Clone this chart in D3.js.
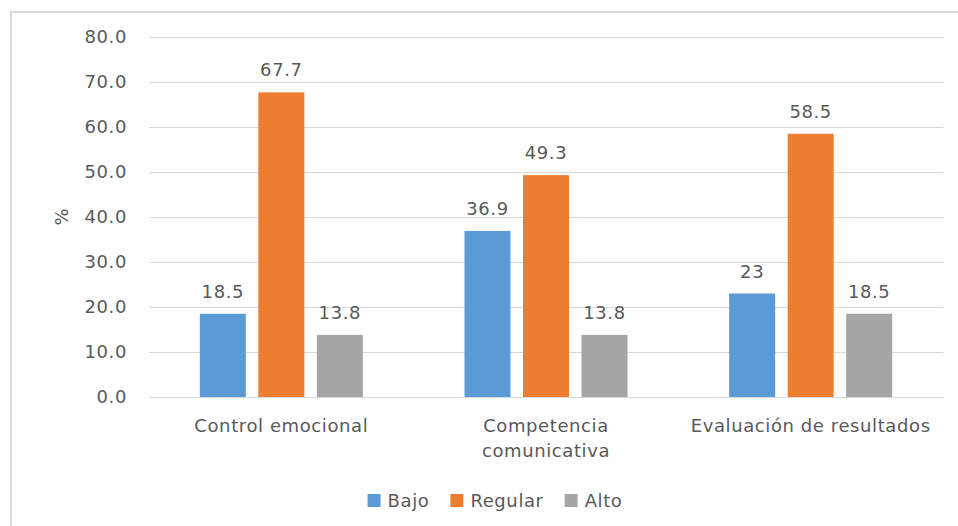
<!DOCTYPE html>
<html>
<head>
<meta charset="utf-8">
<script src="https://cdn.jsdelivr.net/npm/d3@7"></script>
<style>
  body { margin: 0; background: #fff; }
  text { font-family: "DejaVu Sans", sans-serif; fill: #595959; }
</style>
</head>
<body>
<svg id="chart" width="958" height="526"></svg>
<script>
// Dimensions of emotional management, percentage of respondents per level
const categories = ["Control emocional", "Competencia comunicativa", "Evaluación de resultados"];
const categoryLines = [["Control emocional"], ["Competencia", "comunicativa"], ["Evaluación de resultados"]];
const series = ["Bajo", "Regular", "Alto"];
const bajo = [18.5, 36.9, 23];
const regular = [67.7, 49.3, 58.5];
const alto = [13.8, 13.8, 18.5];
const yTicks = [0, 10, 20, 30, 40, 50, 60, 70, 80];
const colors = ["#5b9bd5", "#ed7d31", "#a5a5a5"];

const values = { Bajo: bajo, Regular: regular, Alto: alto };
const rows = categories.map((c, i) => ({
  category: c,
  items: series.map(s => ({ series: s, value: values[s][i] }))
}));

const svg = d3.select("#chart");
const fontSize = 18;
const spacing = "0.6px";

// outer frame
svg.append("rect")
  .attr("x", 11).attr("y", 12)
  .attr("width", 960).attr("height", 530)
  .attr("fill", "none")
  .attr("stroke", "#d9d9d9")
  .attr("stroke-width", 2);

const plot = { left: 149, right: 943, top: 37, bottom: 397 };

const y = d3.scaleLinear().domain([0, 80]).range([plot.bottom, plot.top]);
const x0 = d3.scaleBand().domain(categories).range([plot.left, plot.right]);
const clusterWidth = 163;
const x1 = d3.scaleBand().domain(series).range([0, clusterWidth]).paddingInner(0.2137);
const color = d3.scaleOrdinal().domain(series).range(colors);

// gridlines
svg.append("g")
  .selectAll("line")
  .data(yTicks)
  .join("line")
  .attr("x1", plot.left).attr("x2", plot.right)
  .attr("y1", d => Math.round(y(d)) + 0.5)
  .attr("y2", d => Math.round(y(d)) + 0.5)
  .attr("stroke", "#d9d9d9")
  .attr("stroke-width", 1);

// y axis labels
const yAxis = d3.axisLeft(y).tickValues(yTicks).tickFormat(d3.format(".1f")).tickSize(0).tickPadding(0);
const yg = svg.append("g").attr("transform", `translate(${plot.left - 22},0)`).call(yAxis);
yg.select(".domain").remove();
yg.selectAll("text")
  .attr("font-size", fontSize)
  .style("font-family", '"DejaVu Sans", sans-serif')
  .style("letter-spacing", spacing)
  .attr("fill", "#595959");

// y axis title
svg.append("text")
  .attr("transform", "translate(61,217) rotate(-90)")
  .attr("text-anchor", "middle")
  .attr("dominant-baseline", "central")
  .attr("font-size", fontSize)
  .text("%");

// bars
const groups = svg.append("g")
  .selectAll("g")
  .data(rows)
  .join("g")
  .attr("transform", d => `translate(${x0(d.category) + (x0.bandwidth() - clusterWidth) / 2},0)`);

groups.selectAll("rect")
  .data(d => d.items)
  .join("rect")
  .attr("x", d => x1(d.series))
  .attr("y", d => y(d.value))
  .attr("width", x1.bandwidth())
  .attr("height", d => y(0) - y(d.value))
  .attr("fill", d => color(d.series));

// value labels
groups.selectAll("text")
  .data(d => d.items)
  .join("text")
  .attr("x", d => x1(d.series) + x1.bandwidth() / 2)
  .attr("y", d => y(d.value) - 16)
  .attr("text-anchor", "middle")
  .attr("font-size", fontSize)
  .style("letter-spacing", spacing)
  .text(d => String(d.value));

// category labels
const catLabels = svg.append("g")
  .selectAll("text")
  .data(categories)
  .join("text")
  .attr("x", d => x0(d) + x0.bandwidth() / 2)
  .attr("y", 432)
  .attr("text-anchor", "middle")
  .attr("font-size", fontSize)
  .style("letter-spacing", spacing);
catLabels.each(function(d, i) {
  d3.select(this).selectAll("tspan")
    .data(categoryLines[i])
    .join("tspan")
    .attr("x", x0(d) + x0.bandwidth() / 2)
    .attr("dy", (l, j) => j === 0 ? 0 : 25)
    .text(l => l);
});

// legend
const legend = svg.append("g");
const items = legend.selectAll("g").data(series).join("g");
items.append("rect")
  .attr("width", 13).attr("height", 13)
  .attr("y", 494)
  .attr("fill", d => color(d));
items.append("text")
  .attr("x", 20)
  .attr("y", 507)
  .attr("font-size", fontSize)
  .style("letter-spacing", spacing)
  .text(d => d);
let widths = [];
items.each(function() { widths.push(this.querySelector("text").getComputedTextLength() + 20); });
const gap = 21;
const total = d3.sum(widths) + gap * (widths.length - 1);
let cx = 495 - total / 2;
items.attr("transform", (d, i) => {
  const t = `translate(${cx},0)`;
  cx += widths[i] + gap;
  return t;
});
</script>
</body>
</html>
